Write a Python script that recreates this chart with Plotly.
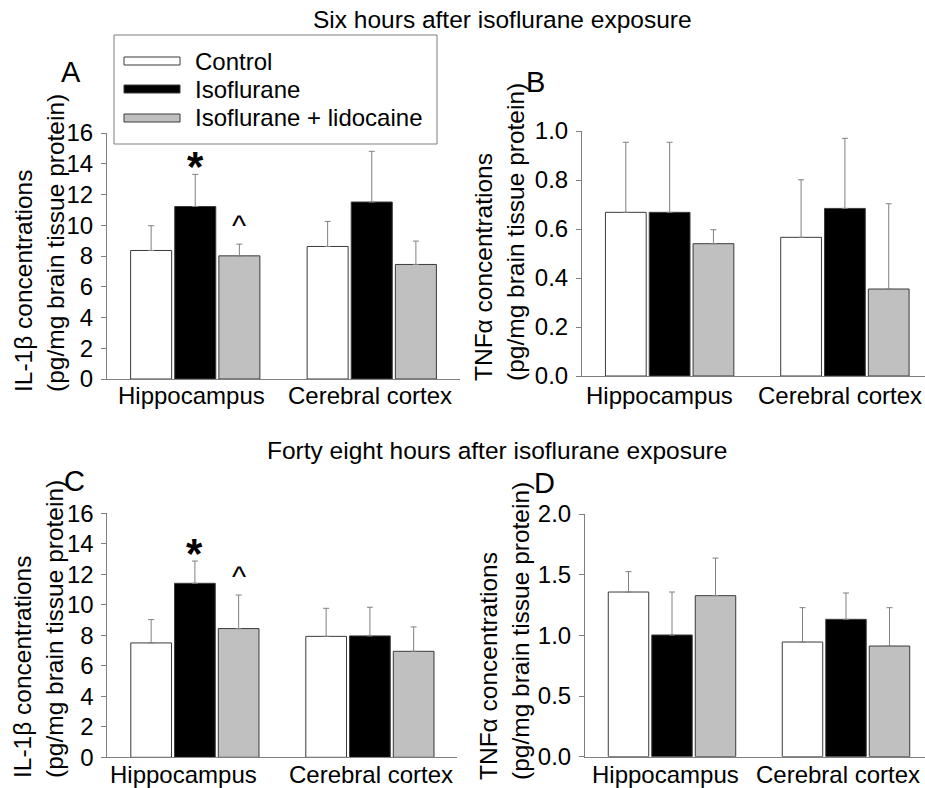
import plotly.graph_objects as go

# ---------------- data ----------------
categories = ["Hippocampus", "Cerebral cortex"]
groups = ["Control", "Isoflurane", "Isoflurane + lidocaine"]

# Panel A: IL-1beta, six hours
a_control = [8.36, 8.62]
a_iso = [11.22, 11.51]
a_lido = [8.01, 7.45]
a_control_err = [1.61, 1.63]
a_iso_err = [2.09, 3.30]
a_lido_err = [0.76, 1.52]

# Panel B: TNFalpha, six hours
b_control = [0.668, 0.566]
b_iso = [0.668, 0.684]
b_lido = [0.540, 0.355]
b_control_err = [0.286, 0.235]
b_iso_err = [0.286, 0.286]
b_lido_err = [0.057, 0.348]

# Panel C: IL-1beta, forty eight hours
c_control = [7.50, 7.93]
c_iso = [11.41, 7.96]
c_lido = [8.44, 6.95]
c_control_err = [1.53, 1.84]
c_iso_err = [1.46, 1.88]
c_lido_err = [2.20, 1.60]

# Panel D: TNFalpha, forty eight hours
d_control = [1.357, 0.945]
d_iso = [1.003, 1.132]
d_lido = [1.327, 0.912]
d_control_err = [0.168, 0.283]
d_iso_err = [0.354, 0.217]
d_lido_err = [0.310, 0.316]

y_ticks_il = [0, 2, 4, 6, 8, 10, 12, 14, 16]
y_ticks_tnf_b = [0.0, 0.2, 0.4, 0.6, 0.8, 1.0]
y_ticks_tnf_d = [0.0, 0.5, 1.0, 1.5, 2.0]

title_top = "Six hours after isoflurane exposure"
title_bottom = "Forty eight hours after isoflurane exposure"
ytitle_il = "IL-1β concentrations<br>(pg/mg brain tissue protein)"
ytitle_tnf = "TNFα concentrations<br>(pg/mg brain tissue protein)"
panel_letters = ["A", "B", "C", "D"]

# ---------------- style ----------------
W, H = 925, 788
FONT = "Liberation Sans, Arial, sans-serif"
fills = ["#ffffff", "#000000", "#c0c0c0"]
outline = "#3a3a3a"
axis_col = "#7f7f7f"
err_col = "#808080"


def px(x):
    return x / W


def py(y):
    return 1 - y / H


fig = go.Figure()

panels = [
    ("x", "y", [a_control, a_iso, a_lido], [a_control_err, a_iso_err, a_lido_err]),
    ("x2", "y2", [b_control, b_iso, b_lido], [b_control_err, b_iso_err, b_lido_err]),
    ("x3", "y3", [c_control, c_iso, c_lido], [c_control_err, c_iso_err, c_lido_err]),
    ("x4", "y4", [d_control, d_iso, d_lido], [d_control_err, d_iso_err, d_lido_err]),
]

for xa, ya, vals, errs in panels:
    for i, g in enumerate(groups):
        fig.add_trace(go.Bar(
            x=categories, y=vals[i], name=g, xaxis=xa, yaxis=ya,
            showlegend=False, hoverinfo="skip",
            marker=dict(color=fills[i], line=dict(color=outline, width=1)),
            error_y=dict(type="data", symmetric=False, array=errs[i],
                         arrayminus=[0] * len(errs[i]),
                         color=err_col, thickness=1, width=3),
        ))

tickfont = dict(family=FONT, size=24, color="black")
common_x = dict(type="category", showline=True, linecolor=axis_col, linewidth=1,
                ticks="", showgrid=False, zeroline=False, showticklabels=False,
                automargin=False)
common_y = dict(showline=True, linecolor=axis_col, linewidth=1, ticks="outside",
                ticklen=5, tickcolor=axis_col, showgrid=False, zeroline=False,
                tickfont=tickfont, ticklabelstandoff=3, automargin=False)

fig.update_layout(
    width=W, height=H, autosize=False,
    margin=dict(l=0, r=0, t=0, b=0, pad=0, autoexpand=False),
    paper_bgcolor="white", plot_bgcolor="rgba(0,0,0,0)",
    barmode="group", bargap=0.25, bargroupgap=0.07,
    showlegend=False,
    font=dict(family=FONT, color="black"),
    xaxis=dict(common_x, domain=[px(107), px(460)], anchor="y", range=[-0.5, 1.5]),
    yaxis=dict(common_y, domain=[py(379), py(133)], anchor="x", range=[0, 16],
               tickvals=y_ticks_il),
    xaxis2=dict(common_x, domain=[px(582), 1.0], anchor="y2", range=[-0.5, 1.457]),
    yaxis2=dict(common_y, domain=[py(376), py(131)], anchor="x2", range=[0, 1.0],
                tickvals=y_ticks_tnf_b, tickformat=".1f"),
    xaxis3=dict(common_x, domain=[px(107.4), px(457.4)], anchor="y3", range=[-0.5, 1.5]),
    yaxis3=dict(common_y, domain=[py(757.3), py(513.3)], anchor="x3", range=[0, 16],
                tickvals=y_ticks_il),
    xaxis4=dict(common_x, domain=[px(585), 1.0], anchor="y4", range=[-0.5, 1.454]),
    yaxis4=dict(common_y, domain=[py(756.7), py(514)], anchor="x4", range=[0, 2.0],
                tickvals=y_ticks_tnf_d, tickformat=".1f"),
)

ann = []
# category labels under each panel (as text annotations so they stay inside the page)
for xa, ylab, shifts in [("x", 396, [-3.5, -1.5]), ("x2", 396, [-10, -5]),
                         ("x3", 774, [-11, 1]), ("x4", 774, [-7, -8])]:
    for k, cat in enumerate(categories):
        ann.append(dict(text=cat, x=k, y=py(ylab), xref=xa, yref="paper",
                        xanchor="center", yanchor="middle", xshift=shifts[k],
                        showarrow=False, font=dict(size=24)))
# section titles
ann.append(dict(text=title_top, x=px(502), y=py(20), xref="paper", yref="paper",
                xanchor="center", yanchor="middle",
                showarrow=False, font=dict(size=24.5)))
ann.append(dict(text=title_bottom, x=px(497), y=py(450), xref="paper", yref="paper",
                xanchor="center", yanchor="middle",
                showarrow=False, font=dict(size=24.5)))
# y titles (lines left-aligned, i.e. starting at the bottom)
for txt, xc, yb in [(ytitle_il, 39, 394), (ytitle_tnf, 499, 383),
                    (ytitle_il, 38, 780), (ytitle_tnf, 504, 782)]:
    ann.append(dict(text=txt, x=px(xc), y=py(yb), xref="paper", yref="paper",
                    xanchor="center", yanchor="bottom", textangle=-90, align="left",
                    showarrow=False, font=dict(size=24.5)))
# panel letters
for letter, xc, yc in zip(panel_letters, [71, 535, 74, 544], [72, 82, 481, 483]):
    ann.append(dict(text=letter, x=px(xc), y=py(yc), xref="paper", yref="paper",
                    xanchor="center", yanchor="middle",
                    showarrow=False, font=dict(size=29)))

# significance markers (star above Isoflurane, caret above Isoflurane + lidocaine)
slot = (1 - 0.25) / 3
for xa, ya, vals, errs in [("x", "y", a_iso, a_iso_err), ("x3", "y3", c_iso, c_iso_err)]:
    ann.append(dict(text="<b>*</b>", x=0, y=vals[0] + errs[0], xref=xa, yref=ya,
                    xanchor="center", yanchor="bottom", yshift=-18,
                    showarrow=False, font=dict(size=42)))
for xa, ya, vals, errs in [("x", "y", a_lido, a_lido_err), ("x3", "y3", c_lido, c_lido_err)]:
    ann.append(dict(text="^", x=slot, y=vals[0] + errs[0], xref=xa, yref=ya,
                    xanchor="center", yanchor="bottom", yshift=0,
                    showarrow=False, font=dict(size=30)))

# legend (drawn manually, with wide swatches as in the original)
shapes = [dict(type="rect", xref="paper", yref="paper", x0=px(114), x1=px(437),
               y0=py(144), y1=py(35), line=dict(color=axis_col, width=1),
               fillcolor="white", layer="above")]
for i, (g, yc) in enumerate(zip(groups, [61, 89, 118])):
    shapes.append(dict(type="rect", xref="paper", yref="paper", x0=px(124), x1=px(180),
                       y0=py(yc + 4), y1=py(yc - 4), fillcolor=fills[i],
                       line=dict(color=outline, width=1), layer="above"))
    ann.append(dict(text=g, x=px(193), y=py(yc), xref="paper", yref="paper",
                    xanchor="left", yanchor="middle", showarrow=False,
                    font=dict(size=24)))

fig.update_layout(annotations=ann, shapes=shapes)

js = """
document.body.style.margin = '0';
"""

fig.write_html("out.html", config={"displayModeBar": False}, post_script=js)
